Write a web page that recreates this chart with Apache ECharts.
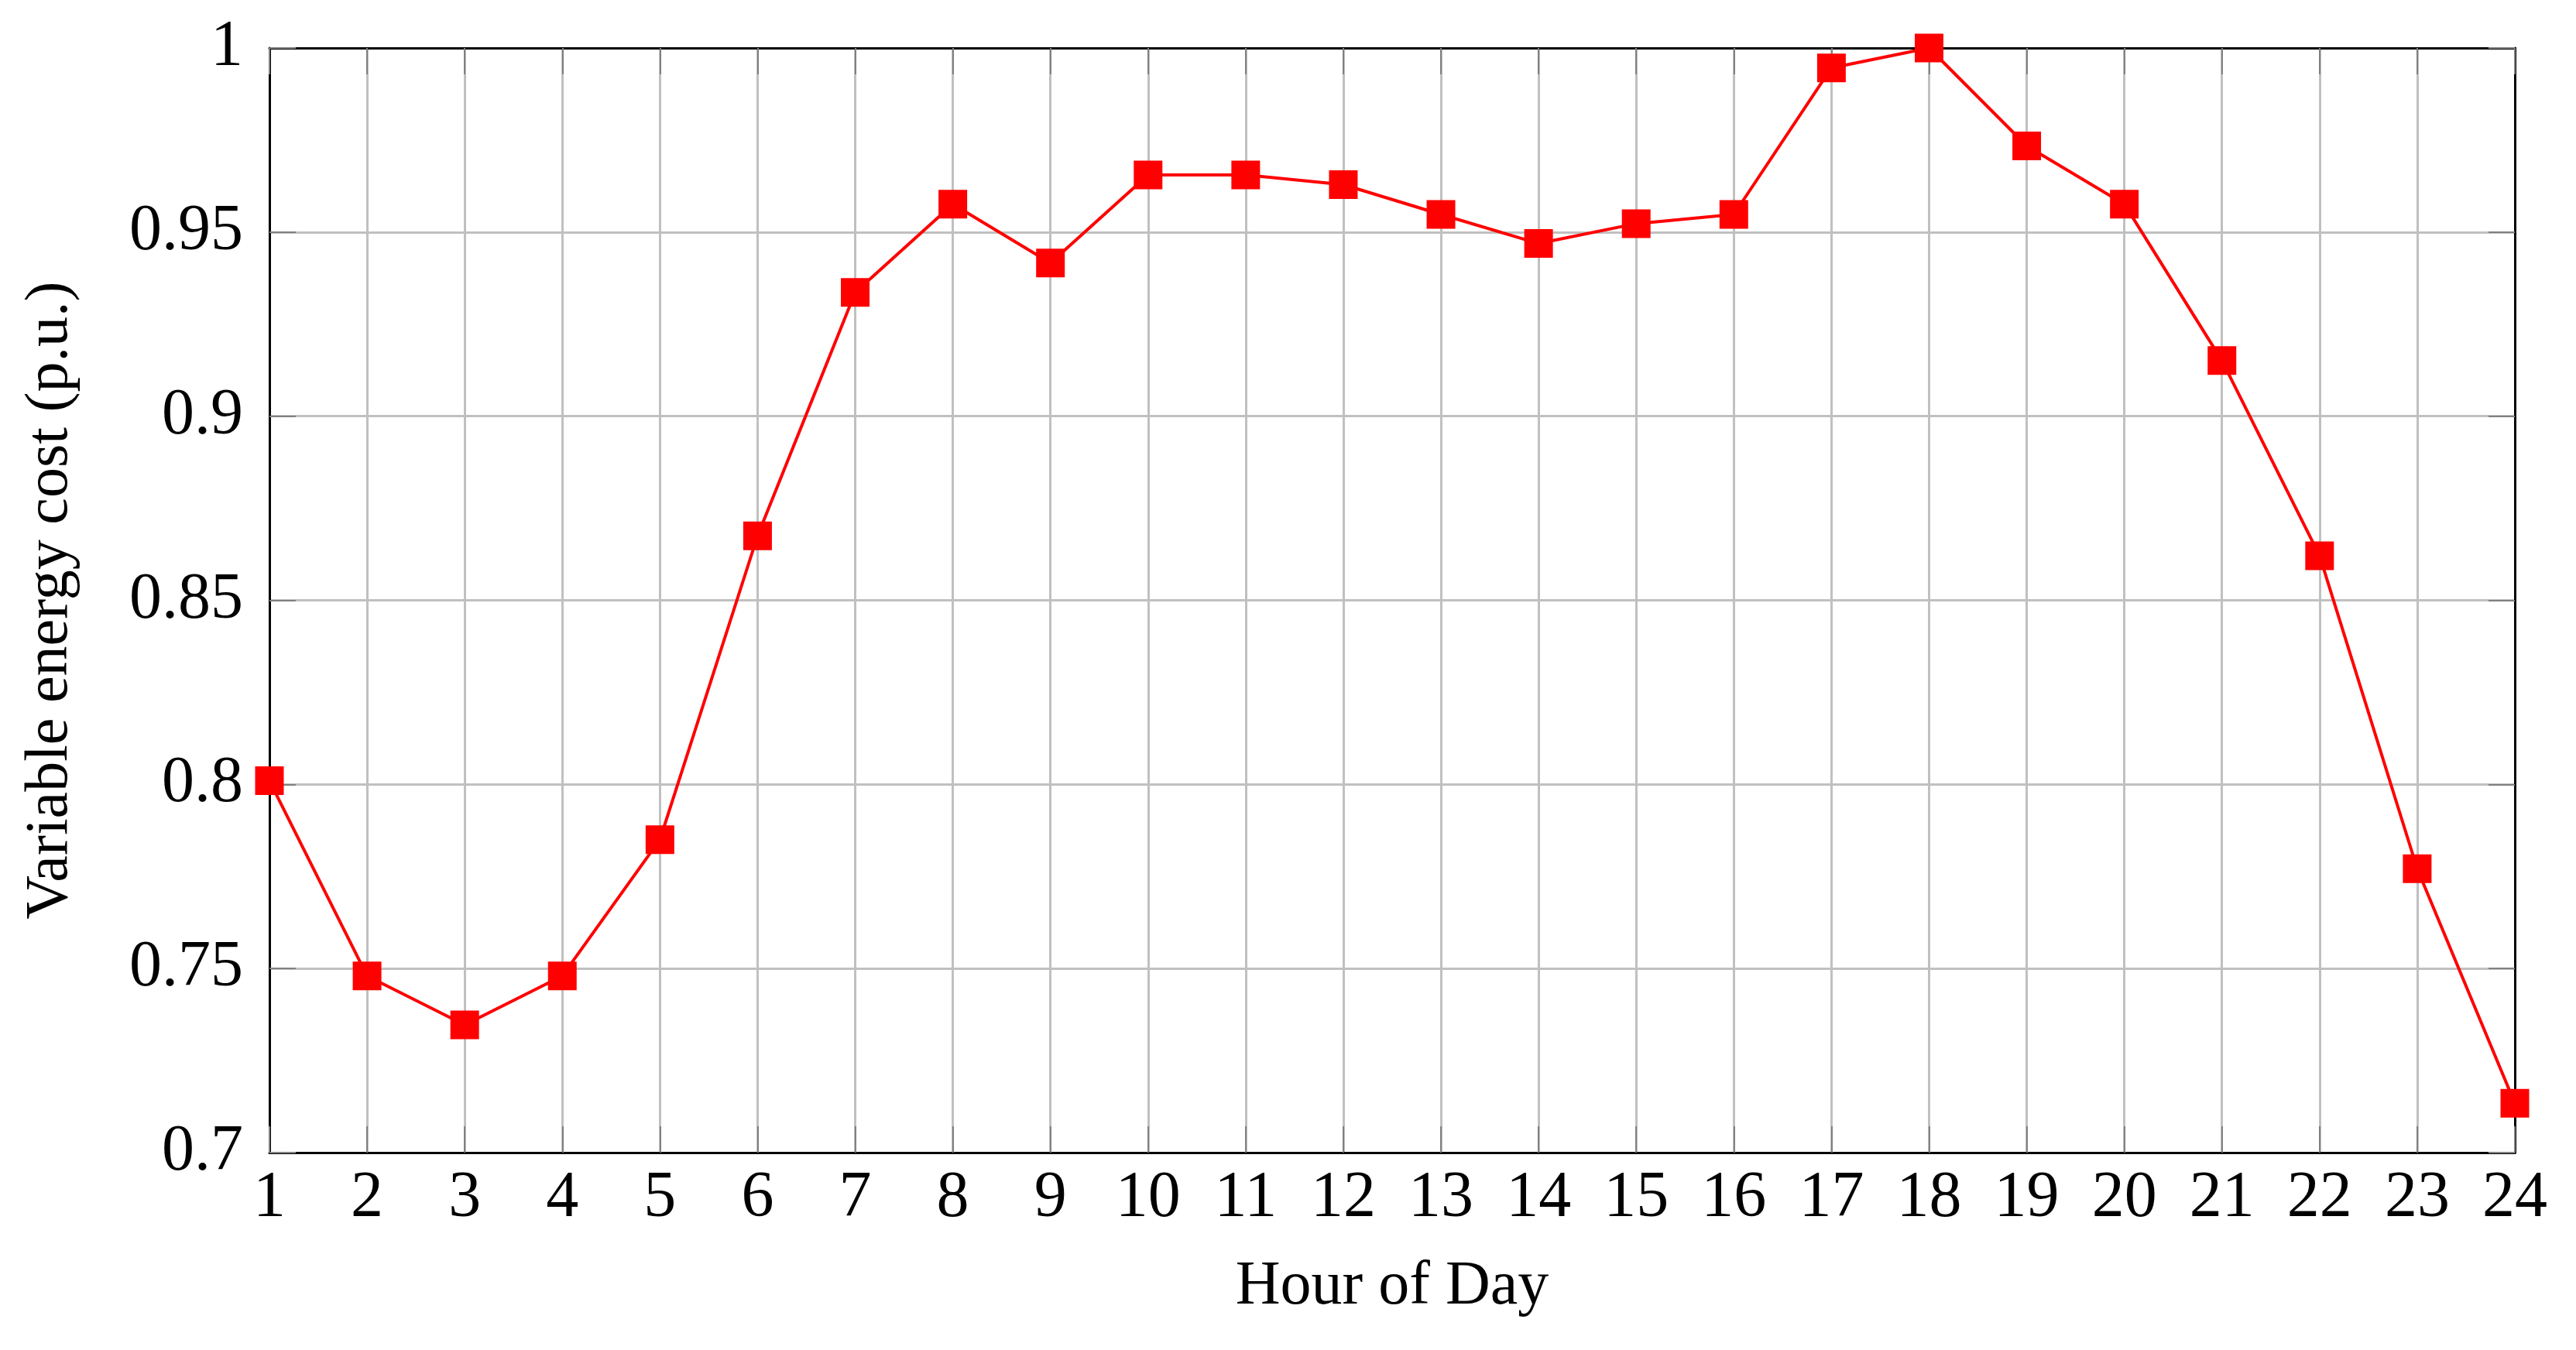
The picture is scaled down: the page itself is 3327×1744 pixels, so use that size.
<!DOCTYPE html>
<html>
<head>
<meta charset="utf-8">
<script src="https://cdn.jsdelivr.net/npm/echarts@6/dist/echarts.min.js"></script>
<style>
  html, body { margin: 0; padding: 0; background: #fff; }
  #chart { width: 3327px; height: 1744px; }
</style>
</head>
<body>
<div id="chart"></div>
<script>
// hours of the day on the x axis
const hours = [1, 2, 3, 4, 5, 6, 7, 8, 9, 10, 11, 12, 13, 14, 15, 16, 17, 18, 19, 20, 21, 22, 23, 24];
// variable energy cost (p.u.)
const cost = [0.801, 0.748, 0.7347, 0.748, 0.785, 0.8675, 0.9336, 0.9576, 0.9416, 0.9655, 0.9655, 0.9629,
  0.9548, 0.9469, 0.9523, 0.9548, 0.9946, 1.0, 0.9734, 0.9576, 0.9151, 0.8621, 0.7771, 0.7134];

const xTitle = 'Hour of Day';
const yTitle = 'Variable energy cost (p.u.)';

const font = 'Liberation Serif';
const tick = { show: true, inside: true, length: 34, lineStyle: { color: '#808080', width: 2 } };
const frame = { show: true, lineStyle: { color: '#000', width: 3 } };

let chart = echarts.init(document.getElementById('chart'));
let option = {
  backgroundColor: '#fff',
  animation: false,
  grid: { left: 348, right: 79, top: 62, bottom: 255 },
  xAxis: [
    {
      type: 'value',
      min: 1,
      max: 24,
      interval: 1,
      name: xTitle,
      nameLocation: 'middle',
      nameGap: 134,
      nameMoveOverlap: false,
      nameTextStyle: { fontFamily: font, fontSize: 80, color: '#000' },
      axisLine: frame,
      axisTick: tick,
      axisLabel: { fontFamily: font, fontSize: 84, color: '#000', margin: 18 },
      splitLine: { show: true, lineStyle: { color: '#c0c0c0', width: 3 } }
    },
    {
      type: 'value',
      position: 'top',
      min: 1,
      max: 24,
      interval: 1,
      axisLine: frame,
      axisTick: tick,
      axisLabel: { show: false },
      splitLine: { show: false }
    }
  ],
  yAxis: [
    {
      type: 'value',
      min: 0.7,
      max: 1,
      interval: 0.05,
      name: yTitle,
      nameLocation: 'middle',
      nameGap: 243,
      nameMoveOverlap: false,
      nameTextStyle: { fontFamily: font, fontSize: 78, color: '#000' },
      axisLine: frame,
      axisTick: tick,
      axisLabel: { fontFamily: font, fontSize: 84, color: '#000', margin: 34 },
      splitLine: { show: true, lineStyle: { color: '#c0c0c0', width: 3 } }
    },
    {
      type: 'value',
      position: 'right',
      min: 0.7,
      max: 1,
      interval: 0.05,
      axisLine: frame,
      axisTick: tick,
      axisLabel: { show: false },
      splitLine: { show: false }
    }
  ],
  series: [
    {
      type: 'line',
      data: hours.map((h, i) => [h, cost[i]]),
      symbol: 'rect',
      symbolSize: 37,
      clip: false,
      lineStyle: { color: '#ff0000', width: 4 },
      itemStyle: { color: '#ff0000' },
      z: 5
    }
  ]
};
chart.setOption(option);
</script>
</body>
</html>
